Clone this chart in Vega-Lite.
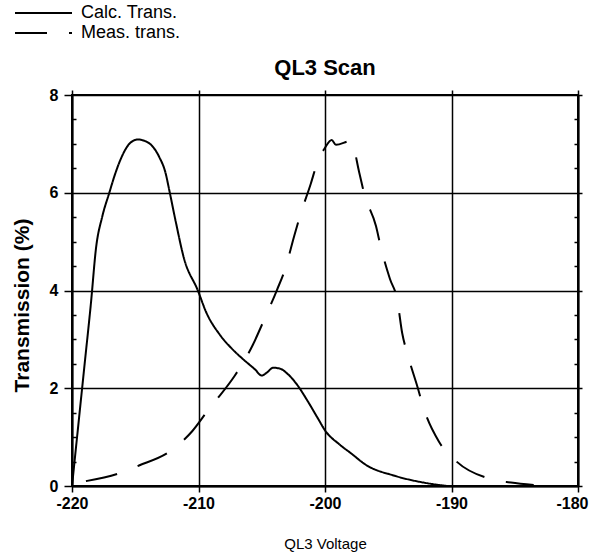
{
  "$schema": "https://vega.github.io/schema/vega-lite/v6.json",
  "width": 506,
  "height": 391,
  "autosize": {"type": "none"},
  "padding": {"left": 72, "top": 95, "right": 14, "bottom": 66},
  "background": "white",
  "config": {
    "font": "Liberation Sans",
    "view": {"stroke": "black", "strokeWidth": 2}
  },
  "title": {"text": "QL3 Scan", "fontSize": 22, "fontWeight": "bold", "color": "black", "font": "Liberation Sans", "offset": 8, "dy": 84, "anchor": "middle"},
  "datasets": {
    "curves": [
      {"series": "Calc. Trans.", "v": -220, "t": 0},
      {"series": "Calc. Trans.", "v": -219.0, "t": 2.5},
      {"series": "Calc. Trans.", "v": -218.5, "t": 3.75},
      {"series": "Calc. Trans.", "v": -218.1, "t": 4.87},
      {"series": "Calc. Trans.", "v": -217.6, "t": 5.52},
      {"series": "Calc. Trans.", "v": -217.05, "t": 6.0},
      {"series": "Calc. Trans.", "v": -216.66, "t": 6.33},
      {"series": "Calc. Trans.", "v": -216.13, "t": 6.7},
      {"series": "Calc. Trans.", "v": -215.47, "t": 7.0},
      {"series": "Calc. Trans.", "v": -214.8, "t": 7.09},
      {"series": "Calc. Trans.", "v": -214.16, "t": 7.05},
      {"series": "Calc. Trans.", "v": -213.6, "t": 6.94},
      {"series": "Calc. Trans.", "v": -213.1, "t": 6.73},
      {"series": "Calc. Trans.", "v": -212.6, "t": 6.4},
      {"series": "Calc. Trans.", "v": -212.3, "t": 6.04},
      {"series": "Calc. Trans.", "v": -211.8, "t": 5.41},
      {"series": "Calc. Trans.", "v": -211.15, "t": 4.66},
      {"series": "Calc. Trans.", "v": -210.05, "t": 4.0},
      {"series": "Calc. Trans.", "v": -209.4, "t": 3.56},
      {"series": "Calc. Trans.", "v": -208.3, "t": 3.09},
      {"series": "Calc. Trans.", "v": -207.4, "t": 2.82},
      {"series": "Calc. Trans.", "v": -206.5, "t": 2.6},
      {"series": "Calc. Trans.", "v": -205.55, "t": 2.39},
      {"series": "Calc. Trans.", "v": -205.0, "t": 2.26},
      {"series": "Calc. Trans.", "v": -204.6, "t": 2.32},
      {"series": "Calc. Trans.", "v": -204.1, "t": 2.42},
      {"series": "Calc. Trans.", "v": -203.55, "t": 2.4},
      {"series": "Calc. Trans.", "v": -202.9, "t": 2.28},
      {"series": "Calc. Trans.", "v": -202.2, "t": 2.07},
      {"series": "Calc. Trans.", "v": -201.4, "t": 1.75},
      {"series": "Calc. Trans.", "v": -200.6, "t": 1.4},
      {"series": "Calc. Trans.", "v": -199.95, "t": 1.12},
      {"series": "Calc. Trans.", "v": -198.9, "t": 0.86},
      {"series": "Calc. Trans.", "v": -197.95, "t": 0.67},
      {"series": "Calc. Trans.", "v": -196.75, "t": 0.43},
      {"series": "Calc. Trans.", "v": -194.5, "t": 0.21},
      {"series": "Calc. Trans.", "v": -192.2, "t": 0.07},
      {"series": "Calc. Trans.", "v": -190.35, "t": 0.0},
      {"series": "Meas. trans.", "v": -218.9, "t": 0.1},
      {"series": "Meas. trans.", "v": -216.4, "t": 0.25},
      {"series": "Meas. trans.", "v": -214.7, "t": 0.42},
      {"series": "Meas. trans.", "v": -212.2, "t": 0.72},
      {"series": "Meas. trans.", "v": -210.5, "t": 1.12},
      {"series": "Meas. trans.", "v": -209.1, "t": 1.6},
      {"series": "Meas. trans.", "v": -208.5, "t": 1.79},
      {"series": "Meas. trans.", "v": -207.15, "t": 2.25},
      {"series": "Meas. trans.", "v": -205.7, "t": 2.89},
      {"series": "Meas. trans.", "v": -204.9, "t": 3.35},
      {"series": "Meas. trans.", "v": -203.8, "t": 4.01},
      {"series": "Meas. trans.", "v": -203.15, "t": 4.44},
      {"series": "Meas. trans.", "v": -202.45, "t": 5.1},
      {"series": "Meas. trans.", "v": -201.97, "t": 5.53},
      {"series": "Meas. trans.", "v": -201.13, "t": 6.18},
      {"series": "Meas. trans.", "v": -200.6, "t": 6.62},
      {"series": "Meas. trans.", "v": -200.0, "t": 6.92},
      {"series": "Meas. trans.", "v": -199.47, "t": 7.08},
      {"series": "Meas. trans.", "v": -199.13, "t": 6.98},
      {"series": "Meas. trans.", "v": -197.95, "t": 7.06},
      {"series": "Meas. trans.", "v": -197.29, "t": 6.41},
      {"series": "Meas. trans.", "v": -196.9, "t": 5.98},
      {"series": "Meas. trans.", "v": -195.97, "t": 5.32},
      {"series": "Meas. trans.", "v": -195.58, "t": 4.88},
      {"series": "Meas. trans.", "v": -194.87, "t": 4.24},
      {"series": "Meas. trans.", "v": -194.29, "t": 3.81},
      {"series": "Meas. trans.", "v": -193.9, "t": 3.13},
      {"series": "Meas. trans.", "v": -193.47, "t": 2.69},
      {"series": "Meas. trans.", "v": -192.67, "t": 2.01},
      {"series": "Meas. trans.", "v": -192.2, "t": 1.59},
      {"series": "Meas. trans.", "v": -191.0, "t": 0.91},
      {"series": "Meas. trans.", "v": -189.6, "t": 0.5},
      {"series": "Meas. trans.", "v": -187.0, "t": 0.15},
      {"series": "Meas. trans.", "v": -185.3, "t": 0.07},
      {"series": "Meas. trans.", "v": -183.5, "t": 0.02}
    ]
  },
  "data": {"name": "curves"},
  "layer": [
    {
      "mark": {"type": "line", "color": "black", "strokeWidth": 2, "interpolate": "monotone"},
      "encoding": {
        "x": {
          "field": "v", "type": "quantitative",
          "scale": {"domain": [-220, -180], "nice": false, "zero": false},
          "axis": {
            "orient": "bottom", "values": [-220, -210, -200, -190, -180],
            "labelExpr": "'' + datum.value",
            "labelOffset": {"condition": {"test": "datum.value == -180", "value": -6}, "value": 0},
            "grid": true, "gridColor": "black", "gridOpacity": 1, "gridWidth": 1.5,
            "domain": true, "domainColor": "black", "domainWidth": 2,
            "ticks": true, "tickColor": "black", "tickWidth": 1.5, "tickSize": 6,
            "labelFont": "Liberation Sans", "labelFontSize": 16, "labelFontWeight": "bold", "labelColor": "black", "labelPadding": 3, "labelFlush": false,
            "title": "QL3 Voltage", "titleFont": "Liberation Sans", "titleFontSize": 15, "titleFontWeight": "normal", "titleColor": "black", "titlePadding": 25
          }
        },
        "y": {
          "field": "t", "type": "quantitative",
          "scale": {"domain": [0, 8], "nice": false},
          "axis": {
            "orient": "left", "values": [0, 2, 4, 6, 8],
            "grid": true, "gridColor": "black", "gridOpacity": 1, "gridWidth": 1.5,
            "domain": true, "domainColor": "black", "domainWidth": 2,
            "ticks": true, "tickColor": "black", "tickWidth": 1.5, "tickSize": 8,
            "labelFont": "Liberation Sans", "labelFontSize": 16, "labelFontWeight": "bold", "labelColor": "black", "labelPadding": 6,
            "title": "Transmission (%)", "titleFont": "Liberation Sans", "titleFontSize": 21, "titleFontWeight": "bold", "titleColor": "black",
            "titleAngle": 270, "titleAlign": "center", "titleBaseline": "middle", "titleX": -50, "titleY": 210
          }
        },
        "strokeDash": {
          "field": "series", "type": "nominal",
          "scale": {"domain": ["Calc. Trans.", "Meas. trans."], "range": [[1, 0], [32, 22]]},
          "legend": {
            "orient": "none", "legendX": -63, "legendY": -91, "title": null, "padding": 0,
            "symbolType": "M-1,0H18", "symbolSize": 36, "symbolStrokeWidth": 2, "symbolStrokeColor": "black", "symbolFillColor": "transparent",
            "labelFont": "Liberation Sans", "labelFontSize": 18, "labelColor": "black", "labelOffset": 54, "rowPadding": 2
          }
        }
      }
    },
    {
      "mark": {"type": "point", "opacity": 0},
      "encoding": {
        "x": {"field": "v", "type": "quantitative",
          "axis": {"orient": "top", "values": [-220, -210, -200, -190, -180], "labels": false, "grid": false, "domain": false,
            "ticks": true, "tickColor": "black", "tickWidth": 1.5, "tickSize": 5, "title": null}},
        "y": {"field": "t", "type": "quantitative",
          "axis": {"orient": "left", "values": [0.5, 1, 1.5, 2.5, 3, 3.5, 4.5, 5, 5.5, 6.5, 7, 7.5], "labels": false, "grid": false, "domain": false,
            "ticks": true, "tickColor": "black", "tickWidth": 1.5, "tickSize": -4, "title": null}}
      }
    },
    {
      "mark": {"type": "point", "opacity": 0},
      "encoding": {
        "x": {"field": "v", "type": "quantitative", "axis": null},
        "y": {"field": "t", "type": "quantitative",
          "axis": {"orient": "right", "values": [0, 2, 4, 6, 8], "labels": false, "grid": false, "domain": true, "domainColor": "black", "domainWidth": 2,
            "ticks": true, "tickColor": "black", "tickWidth": 1.5, "tickSize": 4, "title": null}}
      }
    },
    {
      "mark": {"type": "point", "opacity": 0},
      "encoding": {
        "x": {"field": "v", "type": "quantitative", "axis": null},
        "y": {"field": "t", "type": "quantitative",
          "axis": {"orient": "right", "values": [0.5, 1, 1.5, 2.5, 3, 3.5, 4.5, 5, 5.5, 6.5, 7, 7.5], "labels": false, "grid": false, "domain": false,
            "ticks": true, "tickColor": "black", "tickWidth": 1.5, "tickSize": -4, "title": null}}
      }
    }
  ],
  "resolve": {"axis": {"x": "independent", "y": "independent"}}
}
